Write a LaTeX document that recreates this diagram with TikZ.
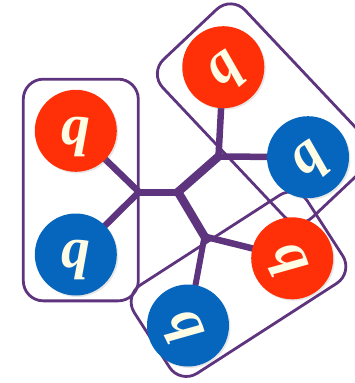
\documentclass[tikz,border=0pt]{standalone}
\usepackage{fontspec}
\setmainfont{Liberation Serif}
\usetikzlibrary{shadows}
\definecolor{qpurple}{RGB}{94,52,126}
\definecolor{qred}{RGB}{255,48,8}
\definecolor{qblue}{RGB}{6,101,189}
\definecolor{qcream}{RGB}{255,252,230}
\pgfdeclarelayer{bg}
\pgfsetlayers{bg,main}
\tikzset{
  quark/.style={circle, minimum size=82pt, inner sep=0pt,
    drop shadow={opacity=0.2, shadow xshift=1.5pt, shadow yshift=-1.5pt}},
  rq/.style={quark, fill=qred},
  bq/.style={quark, fill=qblue},
  lbl/.style={text=qcream, font=\fontsize{58}{58}\selectfont\bfseries\itshape, inner sep=0pt},
  glue/.style={draw=qpurple, line width=6.5pt, line cap=round, line join=round},
  dibox/.style={draw=qpurple, line width=2.8pt, rounded corners=20pt, inner sep=0pt},
}
\begin{document}
\begin{tikzpicture}[x=1pt,y=-1pt]
\useasboundingbox (0,0) rectangle (354,383);
\clip (0,0) rectangle (354,383);
% quarks
\node[rq] (q1) at (75.8,130.8) {};
\node[bq] (q2) at (75.8,254.5) {};
\node[rq] (q3) at (223.3,67.2) {};
\node[bq] (q4) at (308,157.2) {};
\node[rq] (q5) at (292.2,258.3) {};
\node[bq] (q6) at (188,325.5) {};
% labels
\node[lbl] (t1) at ([shift={(0,6)}]q1.center) {q};
\node[lbl] (t2) at ([shift={(0,6)}]q2.center) {q};
\node[lbl, rotate=40] (t3) at ([shift={(4,4.5)}]q3.center) {q};
\node[lbl, rotate=40] (t4) at ([shift={(4,4.5)}]q4.center) {q};
\node[lbl, rotate=-64] (t5) at ([shift={(-5.5,2.8)}]q5.center) {q};
\node[lbl, rotate=-64] (t6) at ([shift={(-5.5,2.8)}]q6.center) {q};
\begin{pgfonlayer}{bg}
  \coordinate (J1) at (139,192);
  \coordinate (J2) at (178,192);
  \coordinate (J3) at (218.5,156.5);
  \coordinate (J4) at (204.5,236.5);
  \draw[glue] (q1.center) -- (J1);
  \draw[glue] (q2.center) -- (J1);
  \draw[glue, line width=7pt] (J1) -- (J2);
  \draw[glue, line width=8.5pt] (J2) -- (J3);
  \draw[glue, line width=8.5pt] (J2) -- (J4);
  \draw[glue] (J3) -- (q3.center);
  \draw[glue] (J3) -- (q4.center);
  \draw[glue] (J4) -- (q5.center);
  \draw[glue, line width=6pt] (J4) -- (q6.center);
  % diquark boxes
  \node[dibox, minimum width=115pt, minimum height=221.7pt] (b1) at (80.8,190) {};
  \node[dibox, minimum width=113pt, minimum height=217pt, rotate=43.3] (b2) at (264.6,113.3) {};
  \node[dibox, minimum width=105pt, minimum height=206pt, rotate=-57.2] (b3) at (238.5,284.2) {};
\end{pgfonlayer}
\end{tikzpicture}
\end{document}
